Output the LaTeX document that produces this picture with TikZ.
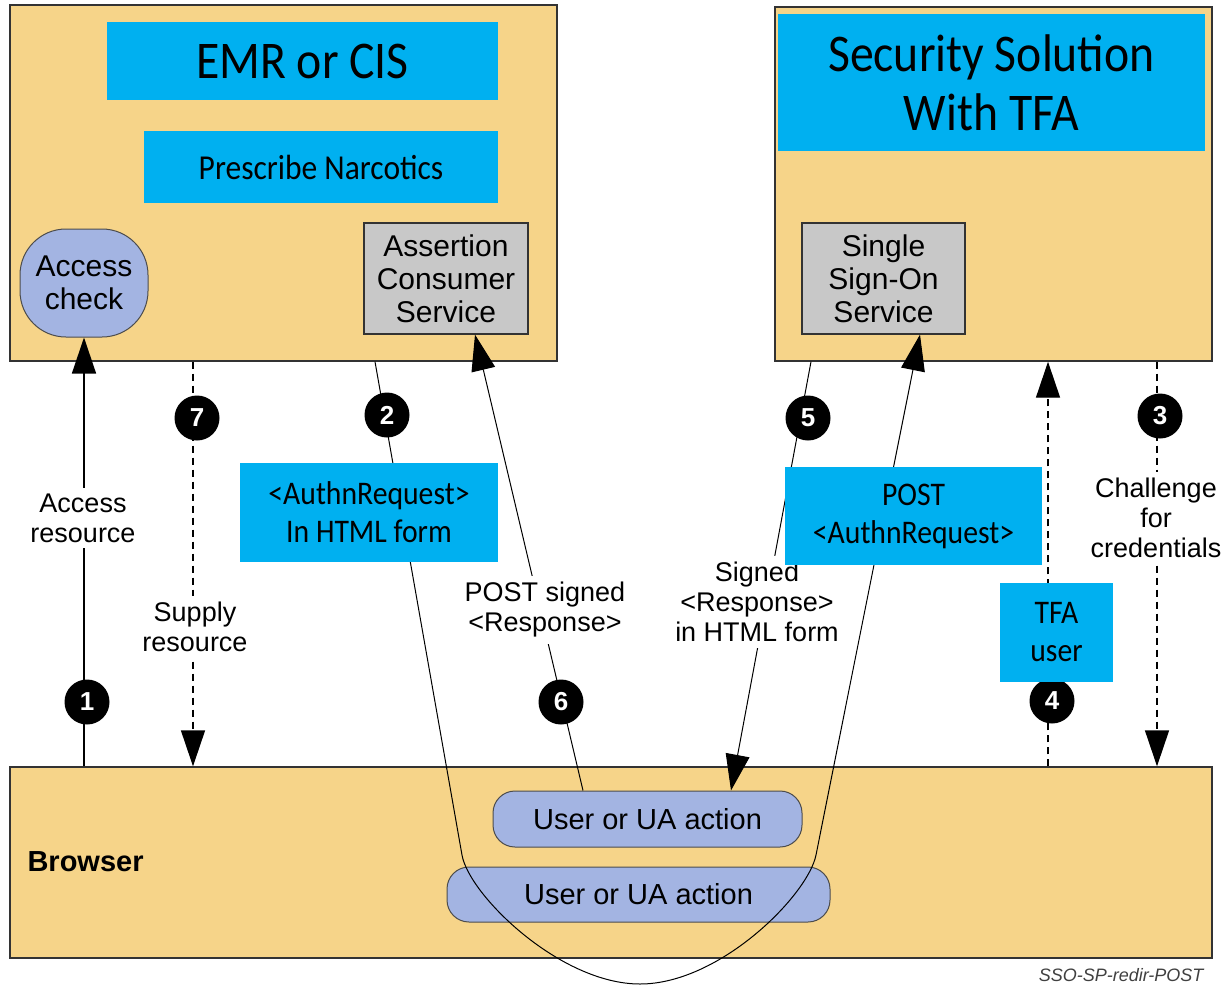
\documentclass[tikz,border=0pt]{standalone}
\usepackage{fontspec}
\setmainfont{Liberation Sans}
\newfontfamily\calfont[FakeStretch=0.9]{Carlito}
\usepackage{tikz}
\usetikzlibrary{arrows.meta}
\definecolor{sand}{RGB}{246,212,137}
\definecolor{skyblue}{RGB}{0,176,240}
\definecolor{lilac}{RGB}{163,180,226}
\definecolor{silver}{RGB}{200,200,200}
\newcommand\titlefont{\calfont\fontsize{53}{59}\selectfont}
\newcommand\bannerfont{\calfont\fontsize{33}{38}\selectfont}
\newcommand\svcfont{\fontsize{30}{33}\selectfont}
\newcommand\actfont{\fontsize{29}{33}\selectfont}
\newcommand\notefont{\fontsize{27}{30}\selectfont}
\newcommand\badgefont{\bfseries\fontsize{26}{26}\selectfont}

\begin{document}
\begin{tikzpicture}[x=1pt,y=-1pt,
  panel/.style={draw=black!80,line width=1.4pt,fill=sand},
  banner/.style={fill=skyblue,align=center,inner sep=0pt,font=\bannerfont},
  service/.style={draw=black!80,line width=1.2pt,fill=silver,align=center,font=\svcfont},
  action/.style={draw=black!70,line width=1pt,fill=lilac,rounded corners=22pt,font=\actfont},
  badge/.style={circle,fill=black,text=white,font=\badgefont,minimum size=45pt,inner sep=0pt},
  note/.style={fill=white,align=center,font=\notefont,inner sep=6pt},
  flow/.style={line width=1.4pt,-{Triangle[length=36pt,width=24pt]}},
  thinflow/.style={flow,line width=1pt},
  back/.style={flow,dash pattern=on 7pt off 5pt}]
\useasboundingbox (0,0) rectangle (1226,985);

\node[panel,minimum width=547pt,minimum height=356pt] (emr) at (283.5,183) {};
\node[panel,minimum width=437pt,minimum height=354pt] (sso) at (993.5,184) {};
\node[panel,minimum width=1202pt,minimum height=191pt] (browser) at (611,862.5) {};

\node[banner,minimum width=391pt,minimum height=78pt,font=\titlefont] (emrtitle) at (302.5,61) {EMR or CIS};
\node[banner,minimum width=354pt,minimum height=72pt,font=\calfont\fontsize{35}{38}\selectfont] (narcotics) at (321,167) {Prescribe Narcotics};
\node[banner,minimum width=427pt,minimum height=137pt,font=\titlefont] (ssotitle) at (991.5,82.5) {Security Solution\\With TFA};

\node[draw=black!70,line width=1pt,fill=lilac,rounded corners=46pt,minimum width=128pt,minimum height=108pt,
  align=center,font=\svcfont] (access) at (84,283) {Access\\check};
\node[service,minimum width=164pt,minimum height=111pt] (acs) at (446,278.5) {Assertion\\Consumer\\Service};
\node[service,minimum width=163pt,minimum height=111pt] (ssosvc) at (883.5,278.5) {Single\\Sign-On\\Service};

\node[anchor=west,font=\bfseries\fontsize{29}{29}\selectfont] (browserlbl) at (24,862) {Browser};
\node[action,minimum width=309pt,minimum height=56pt] (act1) at (647.5,819) {User or UA action};
\node[action,minimum width=383pt,minimum height=55pt] (act2) at (638.5,894.5) {User or UA action};

% messages
\draw[flow] (access.south |- browser.north) -- (access.south);
\draw[back] (emr.south -| 193,0) -- (browser.north -| 193,0);
\draw[back] (sso.south -| 1157,0) -- (browser.north -| 1157,0);
\draw[back] (browser.north -| 1048,0) -- (sso.south -| 1048,0);
\draw[thinflow] (act1.north -| 583,0) -- (acs.south -| 475,0);
\draw[thinflow] (sso.south -| 811,0) -- (act1.north -| 731,0);
\draw[thinflow] (emr.south -| 375,0) -- (462,855)
  .. controls (469,895) and (560,984) .. (640,984)
  .. controls (720,984) and (808,895) .. (816,855) -- (ssosvc.south -| 920,0);

\node[note] (n1) at (83,518) {Access\\resource};
\node[note] (n7) at (195,627) {Supply\\resource};
\node[note] (n6) at (545,610) {POST signed\\<Response>};
\node[note] (n5) at (757,602) {Signed\\<Response>\\in HTML form};
\node[note] (n3) at (1156,518) {Challenge\\for\\credentials};

\node[badge] (b1) at (87,702) {1};
\node[badge] (b2) at (387,415) {2};
\node[badge] (b3) at (1160,416) {3};
\node[badge] (b4) at (1052,701) {4};
\node[badge] (b5) at (808,418) {5};
\node[badge] (b6) at (561,702) {6};
\node[badge] (b7) at (197,418) {7};

\node[banner,minimum width=258pt,minimum height=99pt] (authn) at (369,512.5) {<AuthnRequest>\\In HTML form};
\node[banner,minimum width=257pt,minimum height=98pt] (postreq) at (913.5,516) {POST\\<AuthnRequest>};
\node[banner,minimum width=113pt,minimum height=99pt] (tfa) at (1056.5,632.5) {TFA\\user};

\node[anchor=east,text=black!75,font=\itshape\fontsize{18}{18}\selectfont] (tag) at (1207,975) {SSO-SP-redir-POST};
\end{tikzpicture}
\end{document}
